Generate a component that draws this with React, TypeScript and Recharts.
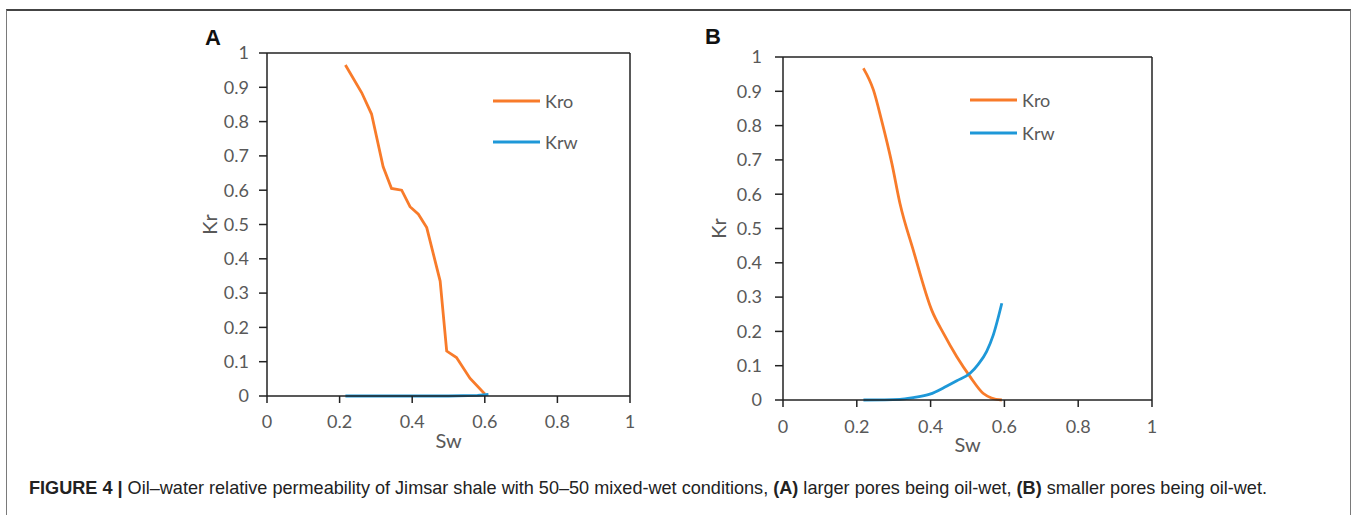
import React from 'react';
import { LineChart, Line, XAxis, YAxis, Legend, ReferenceLine } from 'recharts';

// Panel A - larger pores oil-wet
const swKroA = [0.216, 0.261, 0.288, 0.32, 0.343, 0.371, 0.394, 0.417, 0.44, 0.477, 0.495, 0.522, 0.559, 0.6];
const kroA = [0.965, 0.884, 0.822, 0.668, 0.605, 0.6, 0.552, 0.53, 0.491, 0.335, 0.131, 0.112, 0.052, 0.006];
const swKrwA = [0.216, 0.3, 0.4, 0.5, 0.58, 0.61];
const krwA = [0, 0, 0, 0, 0.002, 0.005];

// Panel B - smaller pores oil-wet
const swKroB = [0.218, 0.245, 0.267, 0.295, 0.317, 0.353, 0.403, 0.435, 0.471, 0.507, 0.543, 0.565, 0.593];
const kroB = [0.967, 0.904, 0.816, 0.69, 0.573, 0.437, 0.262, 0.194, 0.126, 0.068, 0.019, 0.006, 0];
const swKrwB = [0.218, 0.317, 0.353, 0.398, 0.443, 0.471, 0.507, 0.529, 0.552, 0.57, 0.593];
const krwB = [0, 0.002, 0.007, 0.017, 0.04, 0.056, 0.078, 0.104, 0.142, 0.19, 0.282];

const xTicks = [0, 0.2, 0.4, 0.6, 0.8, 1];
const yTicks = [0, 0.1, 0.2, 0.3, 0.4, 0.5, 0.6, 0.7, 0.8, 0.9, 1];

const ORANGE = '#F87B2A';
const BLUE = '#1E98D8';
const AXIS = '#222';
const TEXT = '#595959';
const FONT = 'Lato, "Open Sans", sans-serif';

const zip = (xs: number[], ys: number[]) => xs.map((sw, i) => ({ sw, kr: ys[i] }));

const legendContent = (rowGap: number) => (props: any) => (
  <div style={{ fontFamily: FONT }}>
    {(props.payload || []).map((p: any) => (
      <div key={p.value} style={{ display: 'flex', alignItems: 'center', height: 20, marginBottom: rowGap - 20 }}>
        <svg width={47} height={6}>
          <line x1={0} y1={3} x2={47} y2={3} stroke={p.color} strokeWidth={3} />
        </svg>
        <span style={{ marginLeft: 5, fontSize: 18, color: TEXT }}>{p.value}</span>
      </div>
    ))}
  </div>
);

type PanelProps = {
  kro: { sw: number; kr: number }[];
  krw: { sw: number; kr: number }[];
  width: number;
  height: number;
  margin: { top: number; right: number; left: number; bottom: number };
  yWidth: number;
  tickMarginX: number;
  tickMarginY: number;
  curve: 'linear' | 'monotone';
  legendPos: { left: number; top: number };
  rowGap: number;
};

function Panel(p: PanelProps) {
  const tick = { fill: TEXT, fontSize: 18, fontFamily: FONT };
  return (
    <LineChart width={p.width} height={p.height} margin={p.margin}>
      <XAxis
        type="number"
        dataKey="sw"
        domain={[0, 1]}
        ticks={xTicks}
        interval={0}
        height={90}
        tickSize={7}
        tickMargin={p.tickMarginX}
        tick={tick}
        axisLine={{ stroke: AXIS, strokeWidth: 1.5 }}
        tickLine={{ stroke: AXIS, strokeWidth: 1.5 }}
        label={{ value: 'Sw', position: 'center', fill: TEXT, fontSize: 20, fontFamily: FONT }}
      />
      <YAxis
        type="number"
        domain={[0, 1]}
        ticks={yTicks}
        interval={0}
        width={p.yWidth}
        tickSize={8}
        tickMargin={p.tickMarginY}
        tick={tick}
        axisLine={{ stroke: AXIS, strokeWidth: 1.5 }}
        tickLine={{ stroke: AXIS, strokeWidth: 1.5 }}
        label={{ value: 'Kr', angle: -90, position: 'center', fill: TEXT, fontSize: 20, fontFamily: FONT }}
      />
      <ReferenceLine y={1} stroke={AXIS} strokeWidth={1.5} />
      <ReferenceLine x={1} stroke={AXIS} strokeWidth={1.5} />
      <Legend
        layout="vertical"
        align="center"
        verticalAlign="middle"
        content={legendContent(p.rowGap)}
        wrapperStyle={{ left: p.legendPos.left, top: p.legendPos.top, width: 'auto', height: 'auto' }}
      />
      <Line data={p.kro} dataKey="kr" name="Kro" type={p.curve} stroke={ORANGE} strokeWidth={2.8} dot={false} isAnimationActive={false} />
      <Line data={p.krw} dataKey="kr" name="Krw" type={p.curve} stroke={BLUE} strokeWidth={2.8} dot={false} isAnimationActive={false} />
    </LineChart>
  );
}

export default function App() {
  return (
    <div style={{ position: 'absolute', left: 0, top: 0, width: 1352, height: 515, background: '#fff', overflow: 'hidden' }}>
      <div
        style={{
          position: 'absolute', left: 6, top: 9, width: 1343, height: 520,
          borderTop: '2px solid #444', borderLeft: '1.5px solid #7a7a7a', borderRight: '1.5px solid #7a7a7a',
        }}
      />
      <div style={{ position: 'absolute', left: 140, top: 20 }}>
        <Panel
          kro={zip(swKroA, kroA)}
          krw={zip(swKrwA, krwA)}
          width={500}
          height={466}
          margin={{ top: 33, right: 10, left: 12, bottom: 0 }}
          yWidth={115}
          tickMarginX={12}
          tickMarginY={10}
          curve="linear"
          legendPos={{ left: 353, top: 71 }}
          rowGap={41}
        />
      </div>
      <div style={{ position: 'absolute', left: 644, top: 20 }}>
        <Panel
          kro={zip(swKroB, kroB)}
          krw={zip(swKrwB, krwB)}
          width={518}
          height={470}
          margin={{ top: 37, right: 10, left: 10, bottom: 0 }}
          yWidth={129}
          tickMarginX={13}
          tickMarginY={13}
          curve="monotone"
          legendPos={{ left: 326, top: 70 }}
          rowGap={33}
        />
      </div>
      <div style={{ position: 'absolute', left: 205, top: 25, fontFamily: 'Liberation Sans, Arial, sans-serif', fontWeight: 700, fontSize: 22, color: '#111' }}>A</div>
      <div style={{ position: 'absolute', left: 705, top: 24, fontFamily: 'Liberation Sans, Arial, sans-serif', fontWeight: 700, fontSize: 22, color: '#111' }}>B</div>
      <div style={{ position: 'absolute', left: 29, top: 478, fontFamily: 'Liberation Sans, Arial, sans-serif', fontSize: 18.1, color: '#222', whiteSpace: 'nowrap' }}>
        <b>FIGURE 4 |</b> Oil–water relative permeability of Jimsar shale with 50–50 mixed-wet conditions, <b>(A)</b> larger pores being oil-wet, <b>(B)</b> smaller pores being oil-wet.
      </div>
    </div>
  );
}
